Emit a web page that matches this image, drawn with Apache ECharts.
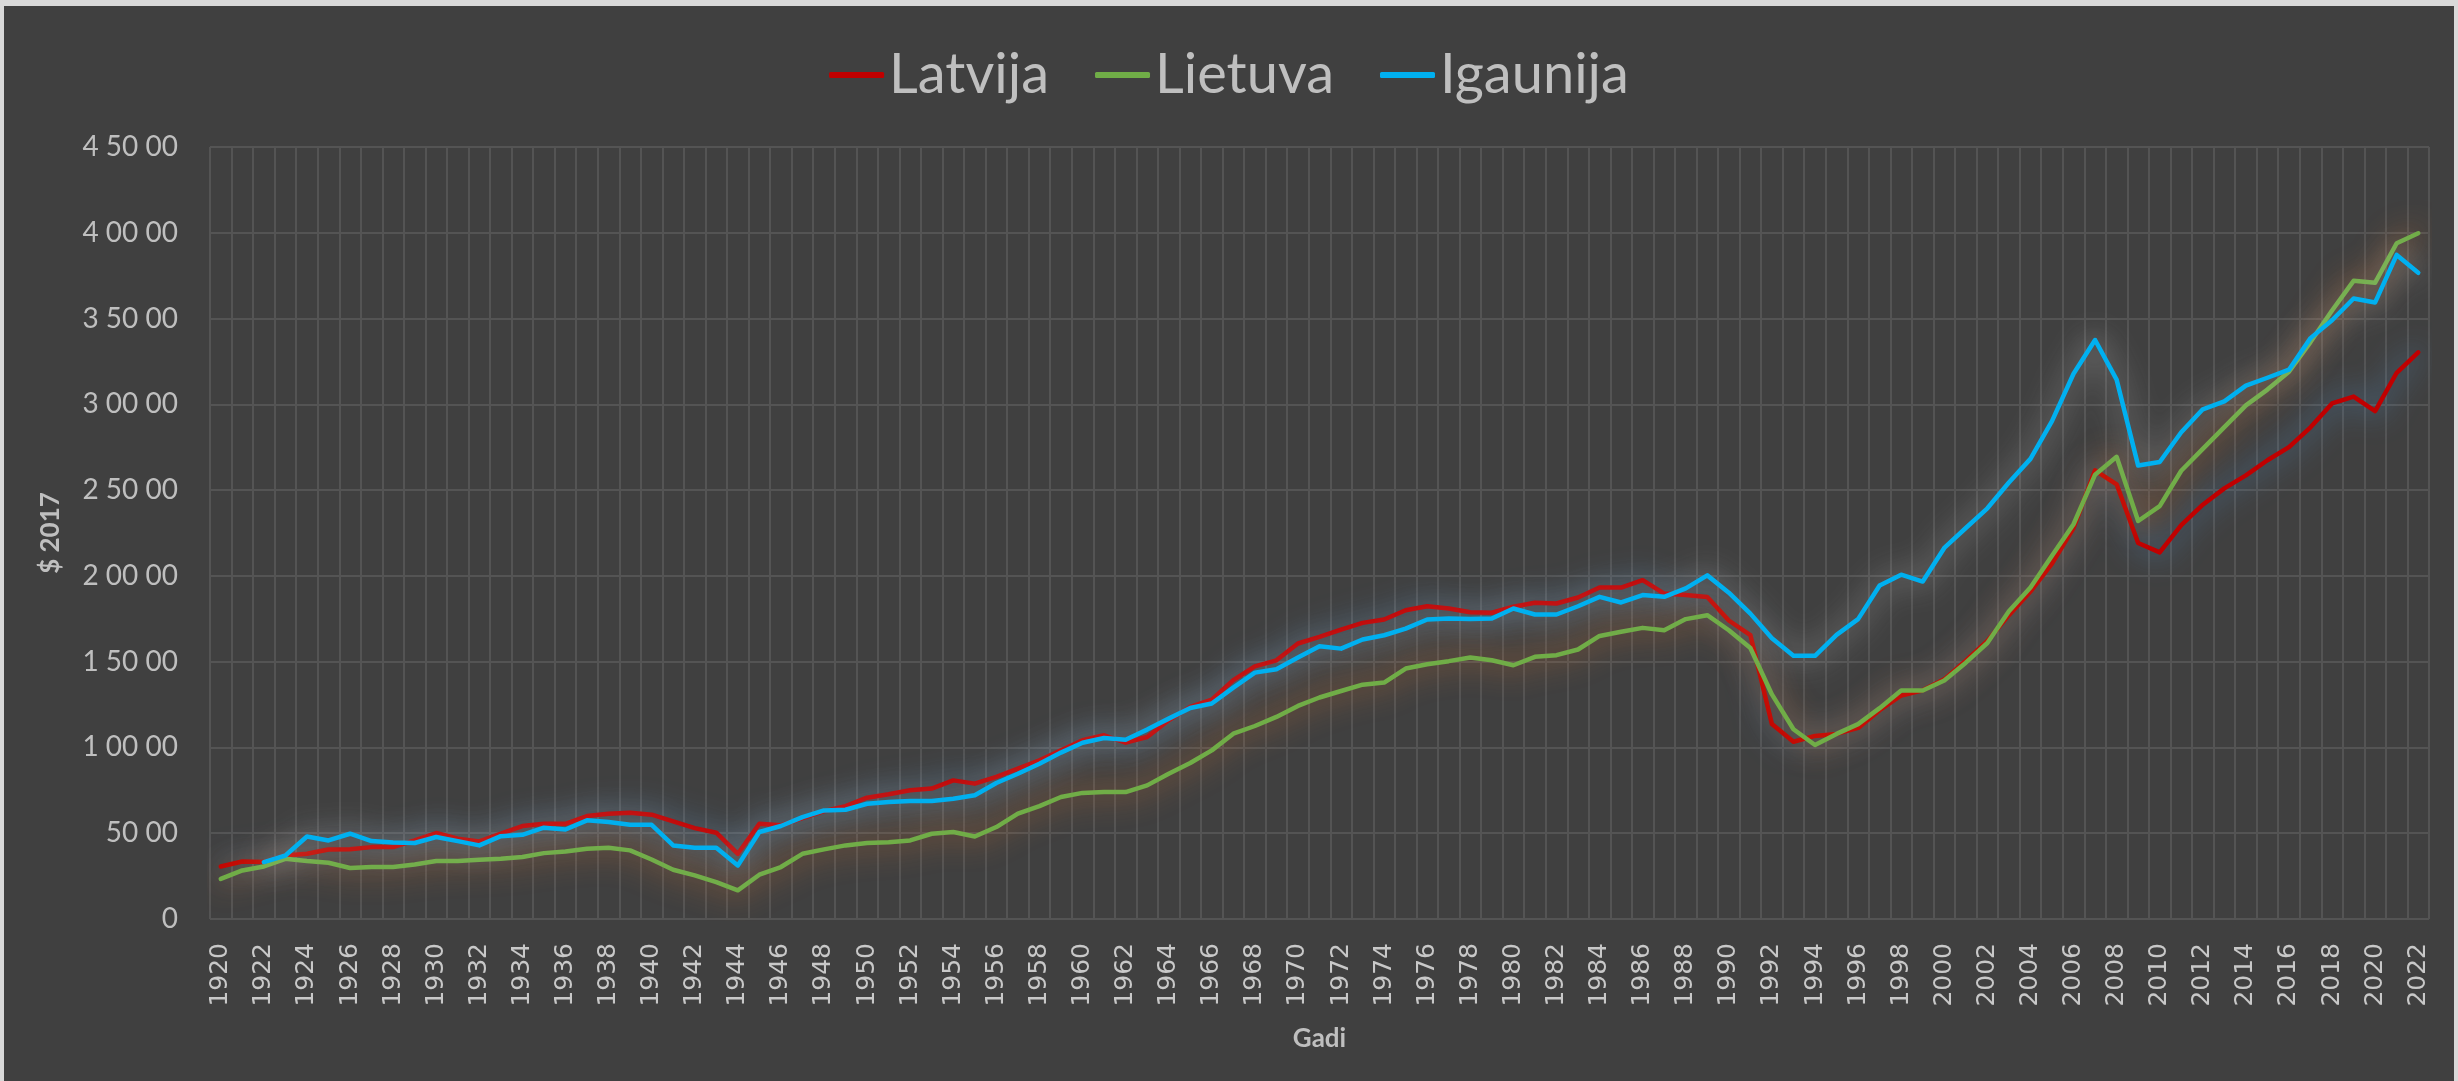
<!DOCTYPE html>
<html>
<head>
<meta charset="utf-8">
<script src="https://cdn.jsdelivr.net/npm/echarts@6/dist/echarts.min.js"></script>
<style>
html, body { margin: 0; padding: 0; background: #d9d9d9; }
#chart { position: absolute; left: 4px; top: 6px; width: 2450px; height: 1075px; background: #404040; }
</style>
</head>
<body>
<div id="chart"></div>
<script>
// gadi 1920 - 2022
var years = [];
for (var y = 1920; y <= 2022; y++) years.push(String(y));

var latvija = [
    3060, 3350, 3320, 3700, 3800, 4050, 4060, 4190, 4190, 4580,
    5010, 4680, 4520, 4970, 5420, 5550, 5550, 6000, 6140, 6190,
    6080, 5690, 5300, 5030, 3800, 5550, 5460, 5880, 6290, 6580,
    7070, 7270, 7500, 7600, 8080, 7890, 8280, 8760, 9250, 9830,
    10420, 10710, 10280, 10610, 11580, 12360, 12790, 13920, 14730, 15080,
    16060, 16440, 16870, 17260, 17460, 18000, 18230, 18100, 17880, 17850,
    18200, 18430, 18390, 18740, 19320, 19320, 19750, 18970, 18880, 18770,
    17400, 16550, 11360, 10330, 10670, 10790, 11140, 12170, 13030, 13330,
    13970, 15060, 16210, 17710, 19090, 20710, 22790, 26150, 25340, 21920,
    21370, 22960, 24150, 25100, 25860, 26740, 27510, 28660, 30050, 30450,
    29610, 31840, 33030
];
var lietuva = [
    2340, 2830, 3060, 3510, 3380, 3280, 2970, 3030, 3030, 3180,
    3380, 3380, 3450, 3510, 3610, 3840, 3940, 4090, 4150, 4000,
    3470, 2870, 2540, 2150, 1670, 2580, 3030, 3800, 4060, 4290,
    4430, 4480, 4580, 4970, 5070, 4810, 5360, 6140, 6580, 7110,
    7350, 7400, 7400, 7790, 8470, 9090, 9830, 10800, 11250, 11780,
    12420, 12910, 13290, 13660, 13780, 14600, 14850, 15030, 15240, 15080,
    14790, 15280, 15380, 15710, 16500, 16740, 16970, 16830, 17480, 17710,
    16830, 15800, 13090, 11060, 10140, 10790, 11360, 12290, 13320, 13320,
    13900, 14940, 16090, 17940, 19320, 21170, 23010, 25900, 26940, 23200,
    24070, 26130, 27400, 28670, 29940, 30860, 31900, 33630, 35470, 37200,
    37090, 39390, 39970
];
var igaunija = [
    null, null, 3320, 3700, 4810, 4580, 4970, 4540, 4460, 4430,
    4780, 4540, 4290, 4830, 4910, 5320, 5220, 5750, 5650, 5490,
    5490, 4290, 4150, 4150, 3120, 5070, 5420, 5940, 6330, 6370,
    6720, 6820, 6880, 6880, 7010, 7210, 7930, 8470, 9050, 9700,
    10270, 10550, 10450, 11040, 11680, 12300, 12560, 13490, 14360, 14560,
    15240, 15900, 15760, 16290, 16540, 16930, 17460, 17520, 17480, 17520,
    18100, 17750, 17750, 18230, 18780, 18450, 18880, 18780, 19270, 20030,
    19020, 17800, 16370, 15340, 15340, 16560, 17480, 19440, 20070, 19670,
    21630, 22790, 23940, 25440, 26820, 29020, 31780, 33750, 31440, 26430,
    26640, 28370, 29710, 30170, 31090, 31550, 32020, 33860, 34900, 36170,
    35940, 38710, 37670
];

// 45000 -> "4 50 00"
function fmtNum (v) {
    var s = String(v);
    var out = '';
    while (s.length > 2) {
        out = ' ' + s.slice(-2) + out;
        s = s.slice(0, -2);
    }
    return s + out;
}

function lineSeries (name, data, color, glow) {
    return {
        name: name,
        type: 'line',
        data: data,
        symbol: 'none',
        connectNulls: false,
        lineStyle: {
            color: color,
            width: 4.5,
            cap: 'round',
            join: 'round',
            shadowBlur: 30,
            shadowColor: glow
        },
        itemStyle: { color: color }
    };
}

var myChart = echarts.init(document.getElementById('chart'));
var gridColor = '#545454';
var textColor = '#bfbfbf';

myChart.setOption({
    backgroundColor: '#404040',
    animation: false,
    legend: {
        top: 33,
        left: 'center',
        icon: 'roundRect',
        itemWidth: 55,
        itemHeight: 6,
        itemGap: 46,
        textStyle: { color: textColor, fontFamily: 'Lato', fontSize: 56, lineHeight: 62 },
        data: ['Latvija', 'Lietuva', 'Igaunija']
    },
    grid: { left: 206, right: 25, top: 141, bottom: 162 },
    xAxis: {
        type: 'category',
        data: years,
        boundaryGap: true,
        name: 'Gadi',
        nameLocation: 'middle',
        nameGap: 107,
        nameTextStyle: { color: textColor, fontFamily: 'Lato', fontWeight: 'bold', fontSize: 26 },
        axisLine: { show: false },
        axisTick: { show: false },
        axisLabel: {
            interval: 1,
            rotate: 90,
            margin: 24,
            color: '#c8c8c8',
            fontFamily: 'DejaVu Sans',
            fontSize: 25
        },
        splitLine: { show: true, interval: 0, lineStyle: { color: gridColor, width: 2 } }
    },
    yAxis: {
        type: 'value',
        min: 0,
        max: 45000,
        interval: 5000,
        name: '$ 2017',
        nameLocation: 'middle',
        nameGap: 146,
        nameTextStyle: { color: textColor, fontFamily: 'Lato', fontWeight: 'bold', fontSize: 26 },
        axisLine: { show: false },
        axisTick: { show: false },
        axisLabel: {
            margin: 32,
            color: textColor,
            fontFamily: 'Lato',
            fontSize: 28,
            formatter: fmtNum
        },
        splitLine: { show: true, lineStyle: { color: gridColor, width: 2 } }
    },
    series: [
        lineSeries('Latvija', latvija, '#c00000', 'rgba(91, 155, 213, 0.95)'),
        lineSeries('Lietuva', lietuva, '#70ad47', 'rgba(237, 125, 49, 0.95)'),
        lineSeries('Igaunija', igaunija, '#00b0f0', 'rgba(220, 220, 220, 0.8)')
    ]
});
</script>
</body>
</html>
